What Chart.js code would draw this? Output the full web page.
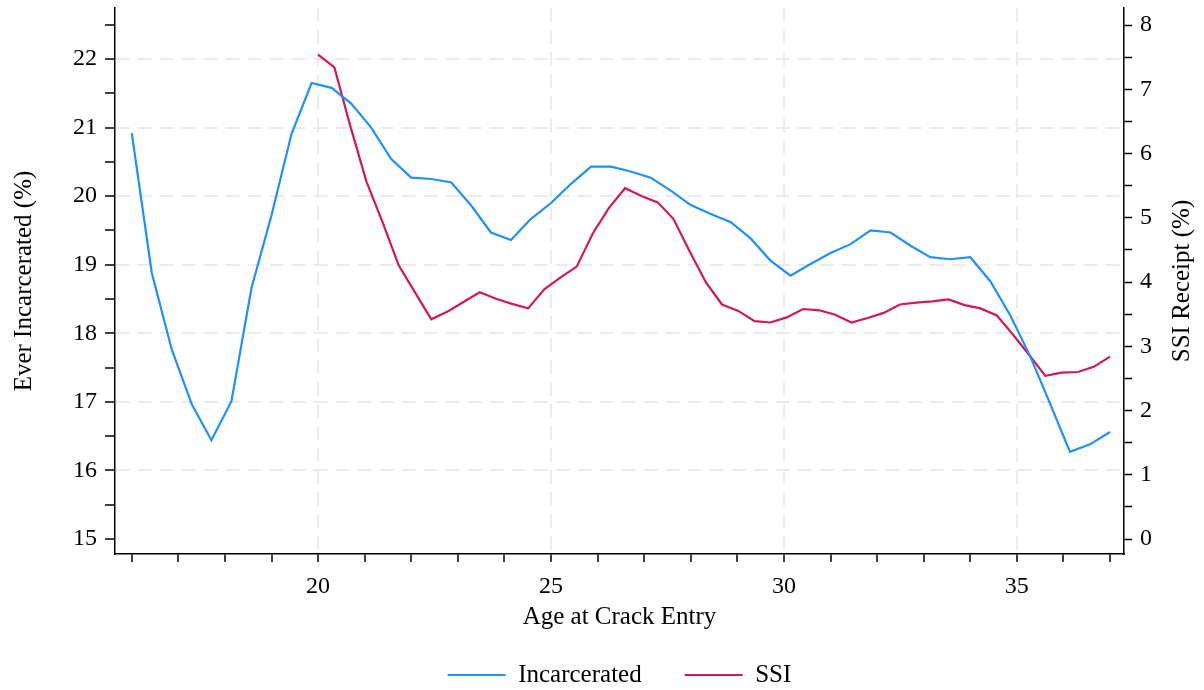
<!DOCTYPE html>
<html>
<head>
<meta charset="utf-8">
<script src="https://cdn.jsdelivr.net/npm/chart.js@4.4.1/dist/chart.umd.min.js"></script>
<style>
html,body{margin:0;padding:0;background:#fff;}
canvas{display:block;}
</style>
</head>
<body>
<canvas id="c" width="1204" height="690"></canvas>
<script>
// ---- data ----
const incarceratedAge = [16.00,16.43,16.86,17.29,17.71,18.14,18.57,19.00,19.43,19.86,
  20.29,20.71,21.14,21.57,22.00,22.43,22.86,23.29,23.71,24.14,
  24.57,25.00,25.43,25.86,26.29,26.71,27.14,27.57,28.00,28.43,
  28.86,29.29,29.71,30.14,30.57,31.00,31.43,31.86,32.29,32.71,
  33.14,33.57,34.00,34.43,34.86,35.29,35.71,36.14,36.57,37.00];
const incarceratedPct = [20.92,18.88,17.76,16.96,16.44,17.01,18.66,19.72,20.91,21.65,
  21.58,21.35,21.00,20.54,20.27,20.25,20.20,19.86,19.47,19.36,
  19.67,19.90,20.18,20.43,20.43,20.36,20.27,20.08,19.87,19.74,
  19.62,19.38,19.06,18.84,19.01,19.17,19.30,19.50,19.47,19.28,
  19.11,19.08,19.11,18.76,18.26,17.66,16.98,16.27,16.38,16.56];
const ssiAge = [20.00,20.35,20.69,21.04,21.39,21.73,22.08,22.43,22.78,23.12,
  23.47,23.82,24.16,24.51,24.86,25.20,25.55,25.90,26.24,26.59,
  26.94,27.29,27.63,27.98,28.33,28.67,29.02,29.37,29.71,30.06,
  30.41,30.76,31.10,31.45,31.80,32.14,32.49,32.84,33.18,33.53,
  33.88,34.22,34.57,34.92,35.27,35.61,35.96,36.31,36.65,37.00];
const ssiPct = [7.54,7.34,6.43,5.56,4.92,4.26,3.84,3.42,3.54,3.69,
  3.84,3.74,3.66,3.59,3.89,4.07,4.24,4.76,5.15,5.46,
  5.34,5.24,4.98,4.47,3.99,3.65,3.55,3.39,3.37,3.45,
  3.58,3.56,3.49,3.37,3.44,3.52,3.65,3.68,3.70,3.73,
  3.64,3.59,3.48,3.18,2.86,2.54,2.59,2.60,2.68,2.84];
const seriesNames = ['Incarcerated', 'SSI'];
const xLabeledTicks = [20, 25, 30, 35];
const leftLabeledTicks = [15, 16, 17, 18, 19, 20, 21, 22];
const rightLabeledTicks = [0, 1, 2, 3, 4, 5, 6, 7, 8];
const xTitle = 'Age at Crack Entry';
const leftTitle = 'Ever Incarcerated (%)';
const rightTitle = 'SSI Receipt (%)';

// ---- styling ----
const FONT = '"Liberation Serif", "Times New Roman", serif';
const BLUE = '#1e90ff';
const RED = '#d3175a';
const GRID = '#ebebeb';
Chart.defaults.font.family = FONT;
Chart.defaults.font.size = 24;
Chart.defaults.color = '#000';

const near = (v, arr) => arr.some(a => Math.abs(a - v) < 1e-6);

const rightTitlePlugin = {
  id: 'rightTitle',
  afterDraw(chart) {
    const ctx = chart.ctx;
    const area = chart.chartArea;
    ctx.save();
    ctx.translate(1182, (area.top + area.bottom) / 2);
    ctx.rotate(-Math.PI / 2);
    ctx.font = '25px ' + FONT;
    ctx.fillStyle = '#000';
    ctx.textAlign = 'center';
    ctx.textBaseline = 'middle';
    ctx.fillText(rightTitle, 0, 0);
    ctx.restore();
  }
};

// keep the legend row compact while leaving a wide gap between its two items
const legendHeightPlugin = {
  id: 'legendHeight',
  beforeLayout(chart) {
    const lg = chart.legend;
    if (lg && !lg._patchedFit) {
      const f = lg.fit;
      lg.fit = function () { f.call(this); this.height = 70.5; };
      lg._patchedFit = true;
    }
  }
};

const noPad = s => { s.paddingTop = 0; s.paddingBottom = 0; s.paddingLeft = 0; s.paddingRight = 0; };

new Chart(document.getElementById('c'), {
  type: 'line',
  data: {
    datasets: [
      {
        label: seriesNames[0],
        data: incarceratedAge.map((x, i) => ({x, y: incarceratedPct[i]})),
        borderColor: BLUE, backgroundColor: BLUE,
        borderWidth: 2.2, pointRadius: 0, tension: 0, yAxisID: 'y'
      },
      {
        label: seriesNames[1],
        data: ssiAge.map((x, i) => ({x, y: ssiPct[i]})),
        borderColor: RED, backgroundColor: RED,
        borderWidth: 2.2, pointRadius: 0, tension: 0, yAxisID: 'y2'
      }
    ]
  },
  options: {
    responsive: false,
    animation: false,
    devicePixelRatio: 1,
    layout: {padding: {top: 8, bottom: 0, left: 0, right: 0}},
    plugins: {
      tooltip: {enabled: false},
      legend: {
        position: 'bottom',
        fullSize: false,
        labels: {
          font: {size: 25, family: FONT},
          color: '#000',
          boxWidth: 58,
          boxHeight: 2,
          padding: 43,
          generateLabels(chart) {
            const items = Chart.defaults.plugins.legend.labels.generateLabels(chart);
            items.forEach(it => { it.fillStyle = it.strokeStyle; it.lineWidth = 0; });
            return items;
          }
        }
      }
    },
    scales: {
      x: {
        type: 'linear',
        min: 15.64, max: 37.3,
        afterFit(s) { s.height = 65.5; noPad(s); },
        ticks: {
          stepSize: 1, includeBounds: false, autoSkip: false, maxRotation: 0,
          padding: 10, color: '#000', font: {size: 24},
          callback: v => near(v, xLabeledTicks) ? String(v) : ''
        },
        grid: {
          color: c => (c.tick && near(c.tick.value, xLabeledTicks)) ? GRID : 'rgba(0,0,0,0)',
          lineWidth: 2, tickColor: '#000', tickWidth: 1.5, tickLength: 8
        },
        border: {display: true, color: '#000', width: 1.5, dash: [14, 8]},
        title: {display: true, text: xTitle, font: {size: 25}, color: '#000', padding: {top: 0, bottom: -12.5}}
      },
      y: {
        type: 'linear', position: 'left',
        min: 14.781, max: 22.744,
        afterFit(s) { s.width = 115; noPad(s); },
        ticks: {
          stepSize: 0.5, includeBounds: false, autoSkip: false,
          padding: 8, color: '#000', font: {size: 24},
          callback: v => near(v, leftLabeledTicks) ? String(v) : ''
        },
        grid: {
          color: c => (c.tick && near(c.tick.value, leftLabeledTicks) && c.tick.value > 15.5) ? GRID : 'rgba(0,0,0,0)',
          lineWidth: 2, tickColor: '#000', tickWidth: 1.5, tickLength: 10
        },
        border: {display: true, color: '#000', width: 1.5, dash: [14, 8]},
        title: {display: true, text: leftTitle, font: {size: 25}, color: '#000', padding: {top: 9, bottom: 0}}
      },
      y2: {
        type: 'linear', position: 'right',
        min: -0.233, max: 8.265,
        afterFit(s) { s.width = 80; noPad(s); },
        ticks: {
          stepSize: 0.5, includeBounds: false, autoSkip: false,
          padding: 8, color: '#000', font: {size: 24},
          callback: v => near(v, rightLabeledTicks) ? String(v) : ''
        },
        grid: {drawOnChartArea: false, tickColor: '#000', tickWidth: 1.5, tickLength: 8},
        border: {display: true, color: '#000', width: 1.5}
      }
    }
  },
  plugins: [rightTitlePlugin, legendHeightPlugin]
});
</script>
</body>
</html>
